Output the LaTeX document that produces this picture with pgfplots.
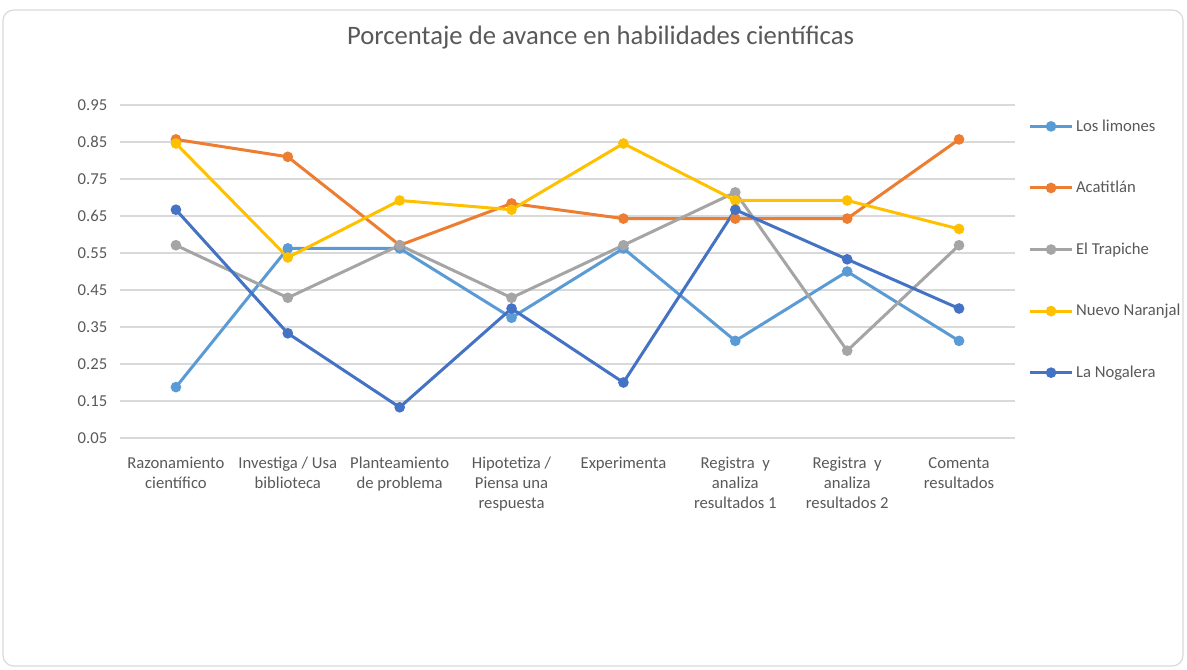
\documentclass[border=0pt]{standalone}
\usepackage{pgfplots}
\pgfplotsset{compat=1.18}
\usepackage{fontspec}
\setmainfont{Carlito}

\definecolor{limones}{HTML}{5B9BD5}
\definecolor{acatitlan}{HTML}{ED7D31}
\definecolor{trapiche}{HTML}{A5A5A5}
\definecolor{naranjal}{HTML}{FFC000}
\definecolor{nogalera}{HTML}{4472C4}
\definecolor{txt}{HTML}{595959}
\definecolor{gridc}{HTML}{D9D9D9}

\begin{document}
\begin{tikzpicture}[x=0.75pt,y=0.75pt]
  % chart frame
  \path (0,0) rectangle (1187,669);
  \draw[gray!30, line width=0.9pt, rounded corners=8pt] (3,3) rectangle (1183,659);
  \coordinate (O) at (120,231);

  \begin{axis}[
    at={(O)}, anchor=south west,
    scale only axis,
    width=671.25pt, height=249.75pt,
    xmin=-0.5, xmax=7.5,
    ymin=0.05, ymax=0.95,
    ytick={0.05,0.15,0.25,0.35,0.45,0.55,0.65,0.75,0.85,0.95},
    yticklabel style={/pgf/number format/fixed, /pgf/number format/fixed zerofill,
      /pgf/number format/precision=2, /pgf/number format/assume math mode=true},
    xtick={0,...,7},
    xticklabels={Razonamiento\\científico, Investiga / Usa\\biblioteca,
      Planteamiento\\de problema, Hipotetiza /\\Piensa una\\respuesta,
      Experimenta, Registra \ y\\analiza\\resultados 1,
      Registra \ y\\analiza\\resultados 2, Comenta\\resultados},
    xticklabel style={align=center, font=\fontsize{12.5}{15}\selectfont, text=txt, anchor=north, yshift=-11pt},
    yticklabel style={font=\fontsize{12.5}{15}\selectfont, text=txt, xshift=-6pt},
    axis line style={draw=none},
    major tick length=0pt,
    ymajorgrids,
    grid style={gridc, line width=0.8pt},
    title={Porcentaje de avance en habilidades científicas},
    title style={at={(0.537,1.18)}, anchor=center, font=\fontsize{20}{22}\selectfont, text=txt},
    every axis plot/.append style={line width=2.25pt, mark=*, mark size=2.8pt},
    legend style={at={(1.015,0.965)}, anchor=north west, draw=none, fill=none,
      font=\fontsize{12.5}{15}\selectfont, text=txt, row sep=32pt, inner sep=0pt},
    legend cell align=left,
    legend image code/.code={\draw[mark repeat=2,mark phase=2,#1]
      plot coordinates {(0cm,0cm)(0.55cm,0cm)(1.1cm,0cm)};},
  ]
  % Los limones
  \addplot[color=limones] coordinates {
    (0,0.1875) (1,0.5625) (2,0.5625) (3,0.375) (4,0.5625) (5,0.3125) (6,0.5) (7,0.3125)
  };
  % Acatitlan
  \addplot[color=acatitlan] coordinates {
    (0,0.857) (1,0.81) (2,0.571) (3,0.684) (4,0.643) (5,0.643) (6,0.643) (7,0.857)
  };
  % El Trapiche
  \addplot[color=trapiche] coordinates {
    (0,0.571) (1,0.429) (2,0.571) (3,0.429) (4,0.571) (5,0.714) (6,0.286) (7,0.571)
  };
  % Nuevo Naranjal
  \addplot[color=naranjal] coordinates {
    (0,0.846) (1,0.538) (2,0.692) (3,0.667) (4,0.846) (5,0.692) (6,0.692) (7,0.615)
  };
  % La Nogalera
  \addplot[color=nogalera] coordinates {
    (0,0.667) (1,0.333) (2,0.133) (3,0.4) (4,0.2) (5,0.667) (6,0.533) (7,0.4)
  };
  \legend{Los limones, Acatitlán, El Trapiche, Nuevo Naranjal, La Nogalera}
  \end{axis}
\end{tikzpicture}
\end{document}
